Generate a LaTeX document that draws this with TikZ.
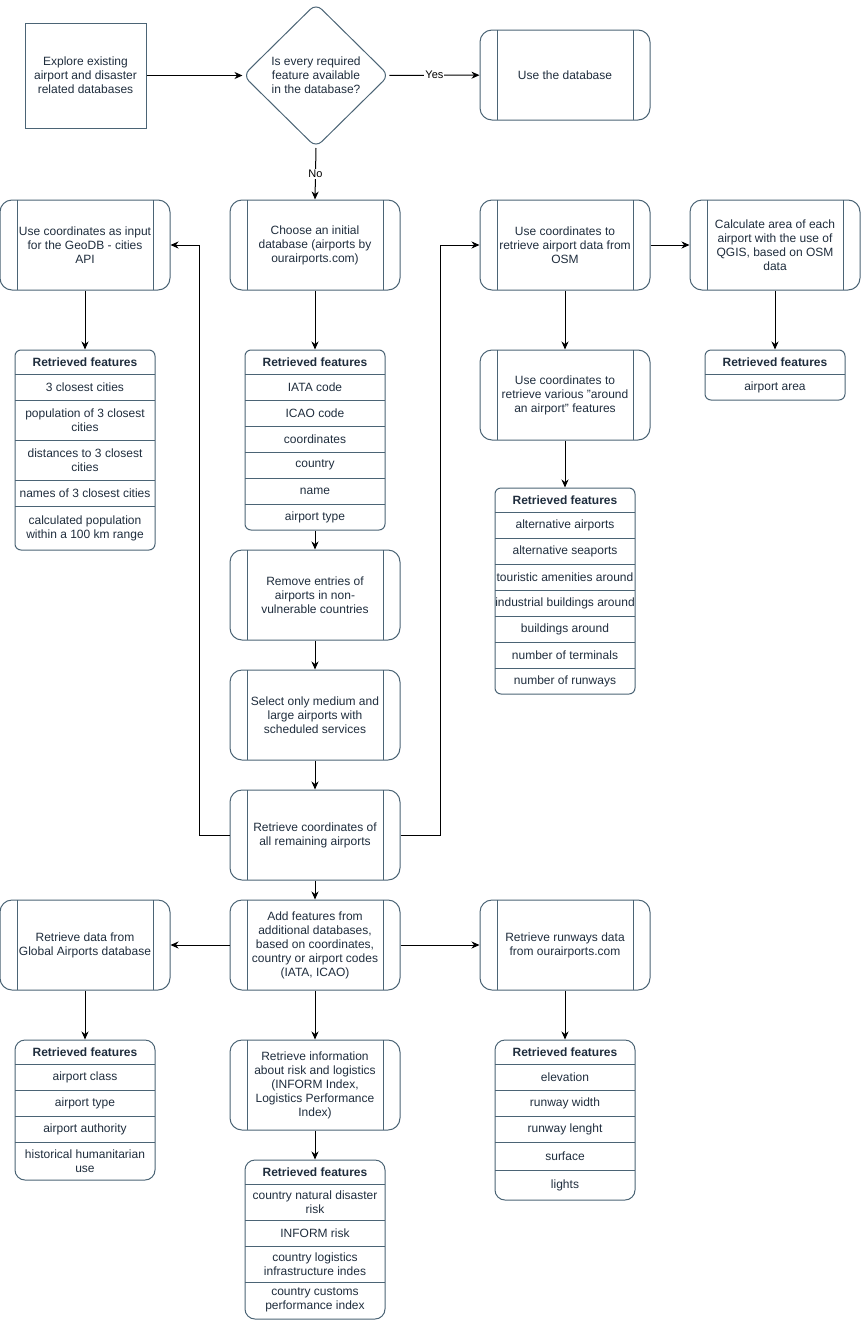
\documentclass[tikz,border=0pt]{standalone}
\usepackage{fontspec}
\setmainfont{Liberation Sans}
\usetikzlibrary{shapes.geometric,arrows.meta}
\definecolor{strk}{HTML}{4B6475}
\definecolor{txt}{HTML}{1F2D3D}
\tikzset{
  base/.style={draw=strk, line width=1pt, text=txt, font=\fontsize{12}{14}\selectfont, align=center, inner sep=0pt},
  plainbox/.style={base, rectangle, minimum width=121pt, minimum height=105pt},
  decision/.style={base, diamond, rounded corners=8pt, minimum width=146pt, minimum height=144pt},
  proc/.style={base, rectangle, rounded corners=12pt, minimum width=170pt, minimum height=90pt,
    path picture={\draw[strk, line width=1pt]
      ([xshift=17pt]path picture bounding box.north west) -- ([xshift=17pt]path picture bounding box.south west)
      ([xshift=-17pt]path picture bounding box.north east) -- ([xshift=-17pt]path picture bounding box.south east);}},
  lbox/.style={draw=strk, line width=1pt, rectangle, rounded corners=#1, inner sep=0pt, minimum width=140pt},
  lbox/.default=6pt,
  hdr/.style={text=txt, font=\fontsize{12}{14}\selectfont\bfseries, align=center, inner sep=0pt},
  rowt/.style={text=txt, font=\fontsize{12}{14}\selectfont, align=center, inner sep=0pt},
  sep/.style={draw=strk, line width=1pt},
  arr/.style={draw=black, line width=1pt, -{Stealth[length=8pt,width=7pt,inset=2.5pt]}},
  lbl/.style={fill=white, text=black, font=\fontsize{11}{13}\selectfont, inner sep=1pt}
}
\begin{document}
\begin{tikzpicture}[x=1pt,y=-1pt]
\useasboundingbox (0,0) rectangle (861,1320);

% top row
\node[plainbox] (explore) at (85.5,75.5) {Explore existing\\airport and disaster\\related databases};
\node[decision] (dec) at (316,75.5) {Is every required\\feature available\\in the database?};
\node[proc] (usedb) at (565,75) {Use the database};

% second row
\node[proc] (geo) at (85,245) {Use coordinates as input\\for the GeoDB - cities\\API};
\node[proc] (choose) at (315,245) {Choose an initial\\database (airports by\\ourairports.com)};
\node[proc] (osm) at (565,245) {Use coordinates to\\retrieve airport data from\\OSM};
\node[proc] (area) at (775,245) {Calculate area of each\\airport with the use of\\QGIS, based on OSM\\data};

\node[proc] (around) at (565,395) {Use coordinates to\\retrieve various "around\\an airport" features};

% central column
\node[proc] (remove) at (315,595) {Remove entries of\\airports in non-\\vulnerable countries};
\node[proc] (select) at (315,715) {Select only medium and\\large airports with\\scheduled services};
\node[proc] (coords) at (315,835) {Retrieve coordinates of\\all remaining airports};
\node[proc] (addf) at (315,945) {Add features from\\additional databases,\\based on coordinates,\\country or airport codes\\(IATA, ICAO)};
\node[proc] (info) at (315,1085) {Retrieve information\\about risk and logistics\\(INFORM Index,\\Logistics Performance\\Index)};
\node[proc] (global) at (85,945) {Retrieve data from\\Global Airports database};
\node[proc] (runways) at (565,945) {Retrieve runways data\\from ourairports.com};

% list: GeoDB
\node[lbox, minimum height=200pt] (geolist) at (85,450) {};
\draw[sep] (15,374) -- (155,374) (15,400) -- (155,400) (15,440) -- (155,440) (15,480) -- (155,480) (15,506) -- (155,506);
\node[hdr] (geoh) at (85,362) {Retrieved features};
\node[rowt] (geo1) at (85,387) {3 closest cities};
\node[rowt] (geo2) at (85,420) {population of 3 closest\\cities};
\node[rowt] (geo3) at (85,460) {distances to 3 closest\\cities};
\node[rowt] (geo4) at (85,493) {names of 3 closest cities};
\node[rowt] (geo5) at (85,528) {calculated population\\within a 100 km range};

% list: initial database
\node[lbox, minimum height=180pt] (chlist) at (315,440) {};
\draw[sep] (245,374) -- (385,374) (245,400) -- (385,400) (245,426) -- (385,426) (245,452) -- (385,452) (245,478) -- (385,478) (245,504) -- (385,504);
\node[hdr] (chh) at (315,362) {Retrieved features};
\node[rowt] (ch1) at (315,387) {IATA code};
\node[rowt] (ch2) at (315,413) {ICAO code};
\node[rowt] (ch3) at (315,439) {coordinates};
\node[rowt] (ch4) at (315,465) {country};
\node[rowt] (ch5) at (315,491) {name};
\node[rowt] (ch6) at (315,517) {airport type};

% list: around
\node[lbox, minimum height=206pt] (arlist) at (565,591) {};
\draw[sep] (495,512) -- (635,512) (495,538) -- (635,538) (495,564) -- (635,564) (495,590) -- (635,590) (495,616) -- (635,616) (495,642) -- (635,642) (495,668) -- (635,668);
\node[hdr] (arh) at (565,500) {Retrieved features};
\node[rowt] (ar1) at (565,525) {alternative airports};
\node[rowt] (ar2) at (565,551) {alternative seaports};
\node[rowt] (ar3) at (565,577) {touristic amenities around};
\node[rowt] (ar4) at (565,603) {industrial buildings around};
\node[rowt] (ar5) at (565,629) {buildings around};
\node[rowt] (ar6) at (565,655) {number of terminals};
\node[rowt] (ar7) at (565,681) {number of runways};

% list: area
\node[lbox, minimum height=50pt] (arealist) at (775,375) {};
\draw[sep] (705,374) -- (845,374);
\node[hdr] (areah) at (775,362) {Retrieved features};
\node[rowt] (area1) at (775,387) {airport area};

% list: global airports
\node[lbox=10pt, minimum height=140pt] (gllist) at (85,1110) {};
\draw[sep] (15,1064) -- (155,1064) (15,1090) -- (155,1090) (15,1116) -- (155,1116) (15,1142) -- (155,1142);
\node[hdr] (glh) at (85,1052) {Retrieved features};
\node[rowt] (gl1) at (85,1077) {airport class};
\node[rowt] (gl2) at (85,1103) {airport type};
\node[rowt] (gl3) at (85,1129) {airport authority};
\node[rowt] (gl4) at (85,1161) {historical humanitarian\\use};

% list: risk
\node[lbox=10pt, minimum height=159pt] (rklist) at (315,1239.5) {};
\draw[sep] (245,1184) -- (385,1184) (245,1220) -- (385,1220) (245,1246) -- (385,1246) (245,1282) -- (385,1282);
\node[hdr] (rkh) at (315,1172) {Retrieved features};
\node[rowt] (rk1) at (315,1202) {country natural disaster\\risk};
\node[rowt] (rk2) at (315,1233) {INFORM risk};
\node[rowt] (rk3) at (315,1264) {country logistics\\infrastructure indes};
\node[rowt] (rk4) at (315,1300) {country customs\\performance index};

% list: runways
\node[lbox=10pt, minimum height=160pt] (rwlist) at (565,1120) {};
\draw[sep] (495,1064) -- (635,1064) (495,1090) -- (635,1090) (495,1116) -- (635,1116) (495,1142) -- (635,1142) (495,1170) -- (635,1170);
\node[hdr] (rwh) at (565,1052) {Retrieved features};
\node[rowt] (rw1) at (565,1077) {elevation};
\node[rowt] (rw2) at (565,1103) {runway width};
\node[rowt] (rw3) at (565,1129) {runway lenght};
\node[rowt] (rw4) at (565,1156) {surface};
\node[rowt] (rw5) at (565,1185) {lights};

% connectors
\draw[arr] (explore) -- (dec);
\draw[arr] (dec) -- node[lbl]{Yes} (usedb);
\draw[arr] (dec.south) -- node[lbl]{No} (choose.north);
\draw[arr] (geo) -- (geolist);
\draw[arr] (choose) -- (chlist);
\draw[arr] (chlist) -- (remove);
\draw[arr] (remove) -- (select);
\draw[arr] (select) -- (coords);
\draw[arr] (coords) -- (addf);
\draw[arr] (coords.west) -- ++(-30,0) |- (geo.east);
\draw[arr] (coords.east) -- ++(40,0) |- (osm.west);
\draw[arr] (osm) -- (area);
\draw[arr] (osm) -- (around);
\draw[arr] (around) -- (arlist);
\draw[arr] (area) -- (arealist);
\draw[arr] (addf) -- (global);
\draw[arr] (addf) -- (runways);
\draw[arr] (addf) -- (info);
\draw[arr] (info) -- (rklist);
\draw[arr] (global) -- (gllist);
\draw[arr] (runways) -- (rwlist);
\end{tikzpicture}
\end{document}
